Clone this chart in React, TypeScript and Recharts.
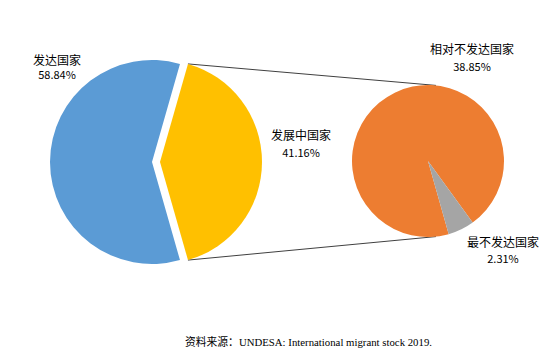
import React from "react"
import { PieChart, Pie, Cell, Customized } from "recharts"

// 主饼：发达 / 发展中
const mainNames = ["发达国家", "发展中国家"]
const mainValues = [58.84, 41.16]
// 子饼：发展中国家拆分
const subNames = ["相对不发达国家", "最不发达国家"]
const subValues = [38.85, 2.31]
const source = "资料来源：UNDESA: International migrant stock 2019."

const mainColors = ["#5B9BD5", "#FFC000"]
const subColors = ["#ED7D31", "#A5A5A5"]

const W = 554
const H = 354
const MAIN_CX = 152
const MAIN_CY = 162
const MAIN_R = 102
const EXPLODE = 8
const SUB_CX = 428
const SUB_CY = 161
const SUB_R = 76
const SUB_START = -54

const mainData = mainNames.map((name, i) => ({ name, value: mainValues[i] }))
const subData = subNames.map((name, i) => ({ name, value: subValues[i] }))

// half of the exploded slice's sweep, slice centred on 3 o'clock
const total = mainValues.reduce((a, b) => a + b, 0)
const halfSweep = (mainValues[1] / total) * 180

// label anchor points (centre of name line) and gap to the value line
const mainLabelPos = [
  { x: 57, y: 59, gap: 15 },
  { x: 301, y: 134, gap: 18 },
]
const subLabelPos = [
  { x: 472, y: 48, gap: 18 },
  { x: 503, y: 241, gap: 17 },
]

const rad = (d: number) => (d * Math.PI) / 180

function Overlay() {
  const ex = MAIN_CX + EXPLODE
  const top = { x: ex + MAIN_R * Math.cos(rad(halfSweep)), y: MAIN_CY - MAIN_R * Math.sin(rad(halfSweep)) }
  const bot = { x: ex + MAIN_R * Math.cos(rad(halfSweep)), y: MAIN_CY + MAIN_R * Math.sin(rad(halfSweep)) }
  const subTop = { x: SUB_CX + SUB_R * Math.cos(rad(84)), y: SUB_CY - SUB_R * Math.sin(rad(84)) }
  const subBot = { x: SUB_CX + SUB_R * Math.cos(rad(84)), y: SUB_CY + SUB_R * Math.sin(rad(84)) }
  const labels = [
    ...mainNames.map((n, i) => ({ n, v: mainValues[i], ...mainLabelPos[i] })),
    ...subNames.map((n, i) => ({ n, v: subValues[i], ...subLabelPos[i] })),
  ]
  return (
    <g>
      <line x1={top.x} y1={top.y} x2={subTop.x} y2={subTop.y} stroke="#404040" strokeWidth={1} />
      <line x1={bot.x} y1={bot.y} x2={subBot.x} y2={subBot.y} stroke="#404040" strokeWidth={1} />
      {labels.map((l) => (
        <g key={l.n} fontFamily="'Noto Sans CJK SC', 'Noto Sans', sans-serif" fill="#000">
          <text x={l.x} y={l.y} textAnchor="middle" dominantBaseline="central" fontSize={12}>
            {l.n}
          </text>
          <text x={l.x} y={l.y + l.gap} textAnchor="middle" dominantBaseline="central" fontSize={11}>
            {l.v.toFixed(2)}%
          </text>
        </g>
      ))}
      <text
        x={185}
        y={342}
        textAnchor="start"
        dominantBaseline="central"
        fontSize={11}
        textLength={247}
        lengthAdjust="spacingAndGlyphs"
        fontFamily="'Liberation Serif', 'Noto Sans CJK SC', serif"
        fill="#000"
      >
        {source}
      </text>
    </g>
  )
}

export default function App() {
  return (
    <div style={{ position: "absolute", left: 0, top: 0, width: W, height: H, background: "#fff" }}>
      <PieChart width={W} height={H} margin={{ top: 0, right: 0, bottom: 0, left: 0 }}>
        <Pie
          data={mainData}
          dataKey="value"
          cx={MAIN_CX}
          cy={MAIN_CY}
          outerRadius={MAIN_R}
          startAngle={halfSweep}
          endAngle={halfSweep + 360}
          isAnimationActive={false}
          stroke="none"
        >
          {mainData.map((d, i) => (
            <Cell key={d.name} fill={i === 0 ? mainColors[0] : "none"} />
          ))}
        </Pie>
        <Pie
          data={mainData}
          dataKey="value"
          cx={MAIN_CX + EXPLODE}
          cy={MAIN_CY}
          outerRadius={MAIN_R}
          startAngle={halfSweep}
          endAngle={halfSweep + 360}
          isAnimationActive={false}
          stroke="none"
        >
          {mainData.map((d, i) => (
            <Cell key={d.name} fill={i === 1 ? mainColors[1] : "none"} />
          ))}
        </Pie>
        <Pie
          data={subData}
          dataKey="value"
          cx={SUB_CX}
          cy={SUB_CY}
          outerRadius={SUB_R}
          startAngle={SUB_START}
          endAngle={SUB_START + 360}
          isAnimationActive={false}
          stroke="none"
        >
          {subData.map((d, i) => (
            <Cell key={d.name} fill={subColors[i]} />
          ))}
        </Pie>
        <Customized component={Overlay} />
      </PieChart>
    </div>
  )
}
